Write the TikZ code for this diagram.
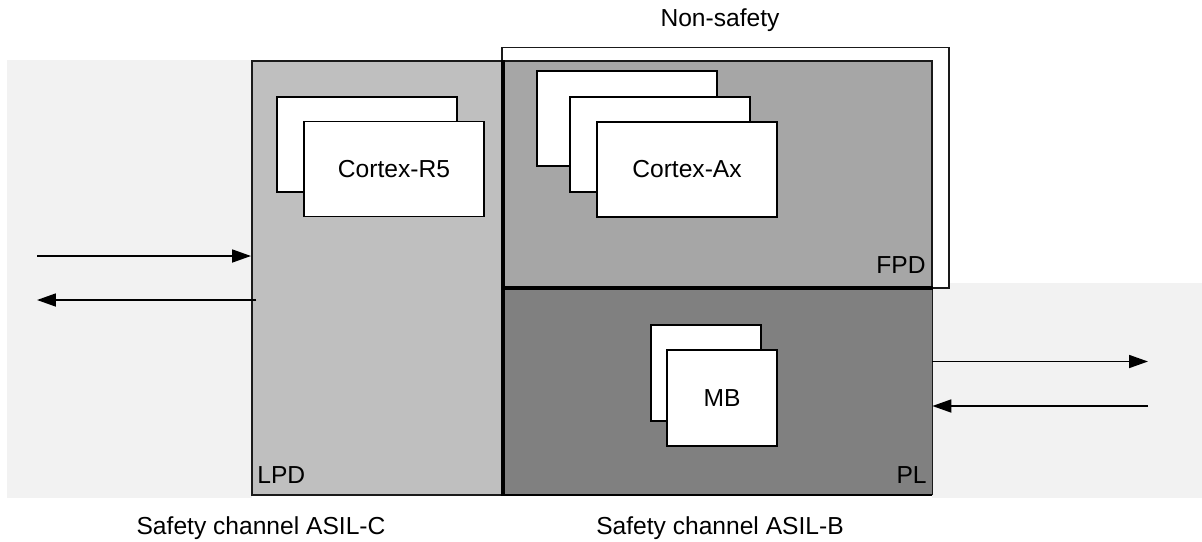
\documentclass[tikz,border=0pt]{standalone}
\usepackage{fontspec}
\setmainfont{Liberation Sans}
\usepackage{tikz}
\usetikzlibrary{
arrows.meta,
positioning,
fit
}
\definecolor{SoCPaper}{HTML}{F2F2F2}
\definecolor{SoCLPD}{HTML}{BFBFBF}
\definecolor{SoCFPD}{HTML}{A6A6A6}
\definecolor{SoCPL}{HTML}{808080}
\definecolor{SoCEdge}{HTML}{1A1A1A}

\begin{document}
\begin{tikzpicture}[x=0.02cm, y=-0.02cm,
  font=\fontsize{14}{16}\selectfont,
  pdbox/.style={draw=SoCEdge, line width=1.1pt, inner sep=0pt},
  card/.style={draw=black, fill=white, line width=1.1pt, minimum width=3.6cm, minimum height=1.9cm, inner sep=0pt},
  mbcard/.style={card, minimum width=2.2cm, minimum height=1.92cm},
  flow/.style={line width=1pt, -{Triangle[length=0.38cm, width=0.26cm]}}]
\useasboundingbox (0,0) rectangle (1202,541);
\node[fill=SoCPaper, inner sep=0pt, fit={(7,60) (252,498)}] (padL) {};
\node[fill=SoCPaper, inner sep=0pt, fit={(932,283) (1202,498)}] (padR) {};
\node[pdbox, fill=white, fit={(502,47.5) (949,288)}] (nonsafe) {};
\node[pdbox, fill=SoCLPD, fit={(252,61) (502,495)}] (lpd) {};
\node[pdbox, fill=SoCFPD, fit={(502,61) (932,287)}] (fpd) {};
\node[fill=SoCPL, inner sep=0pt, fit={(502,287) (932,495)}] (pl) {};
\draw[SoCEdge, line width=0.9pt] (pl.north east) -- (pl.south east);
\draw[black, line width=1.1pt] (pl.south east) -- (pl.south west);
\draw[black, line width=1.8pt] (lpd.north east) -- (lpd.south east);
\draw[black, line width=1.8pt] (fpd.south west) -- (fpd.south east);
\node[card] (r5back) at (367,144.5) {};
\node[card] (r5) at (394,169) {Cortex-R5};
\node[card] (axback) at (627,118.5) {};
\node[card] (axmid) at (660,144.3) {};
\node[card] (ax) at (687,169.2) {Cortex-Ax};
\node[mbcard] (mbback) at (706,373) {};
\node[mbcard] (mb) at (722,398) {MB};
\node[anchor=base] (nonsafeLbl) at (720,27) {Non-safety};
\node[anchor=base west, inner sep=0pt] (lpdLbl) at (257,483) {LPD};
\node[anchor=base east, inner sep=0pt] (fpdLbl) at (926,273) {FPD};
\node[anchor=base east, inner sep=0pt] (plLbl) at (927,483) {PL};
\node[anchor=base] (asilC) at (261,534) {Safety channel ASIL-C};
\node[anchor=base] (asilB) at (720,534) {Safety channel ASIL-B};
\coordinate (lpdIn) at (37,256);
\coordinate (lpdOut) at (37,300);
\coordinate (plOut) at (1148,361.5);
\coordinate (plIn) at (1148,406);
\draw[flow] (lpdIn) -- (lpdIn -| lpd.west);
\draw[flow] ([xshift=3]lpdOut -| lpd.west) -- (lpdOut);
\draw[flow] (plOut -| pl.east) -- (plOut);
\draw[flow] (plIn) -- (plIn -| pl.east);
\end{tikzpicture}
\end{document}
